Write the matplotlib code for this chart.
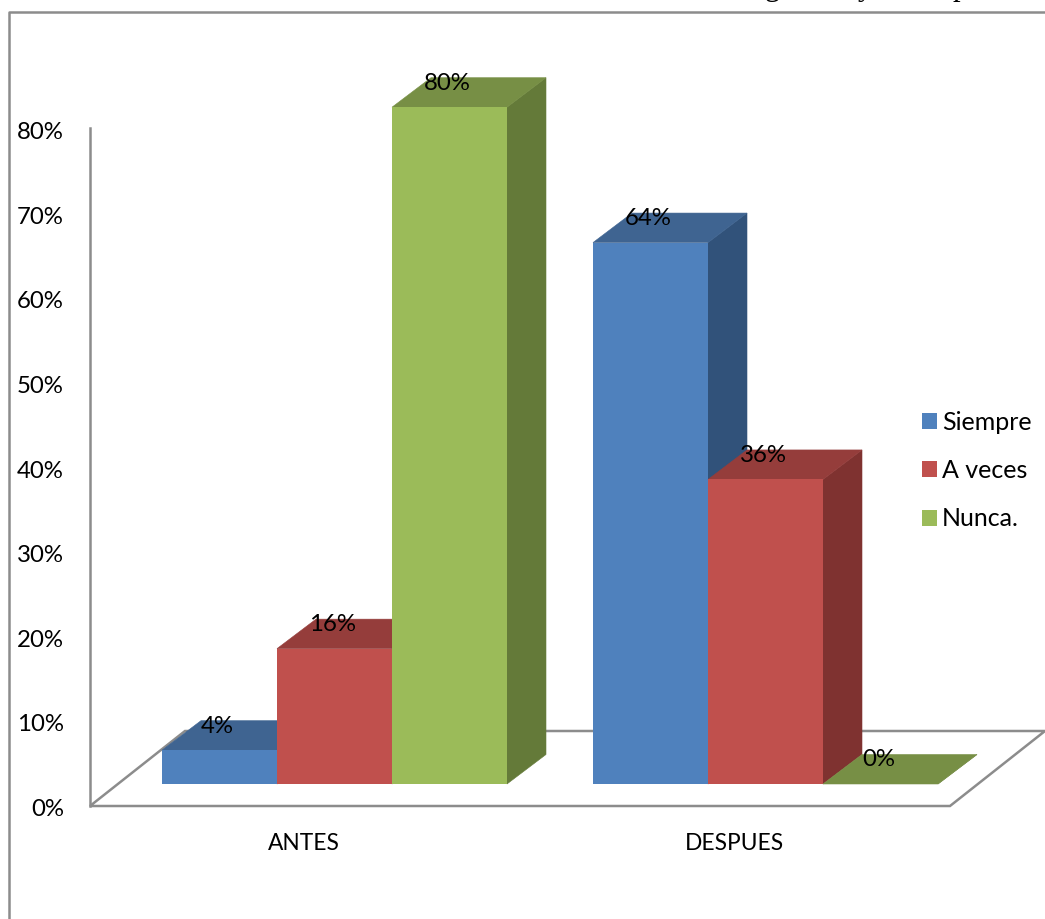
import matplotlib
matplotlib.use("Agg")
import matplotlib.pyplot as plt
from matplotlib.patches import Polygon, Patch

plt.rcParams['font.family'] = ['Lato', 'DejaVu Sans']

categories = ["ANTES", "DESPUES"]
series_names = ["Siempre", "A veces", "Nunca."]
antes_values = [4, 16, 80]
despues_values = [64, 36, 0]
tick_values = [0, 10, 20, 30, 40, 50, 60, 70, 80]

front_colors = ["#4F81BD", "#C0504D", "#9BBB59"]
top_colors = ["#3F6491", "#953D3B", "#778F45"]
side_colors = ["#31527A", "#7F3230", "#647A39"]
frame_color = "#8C8C8C"

W, H = 1045, 919
PX_PER_PCT = 8.46
BASE_PX = 784            # pixel row of the 0% line at the bars' front face
DEPTH_X = 39             # oblique depth of a bar, in x units
DEPTH_Y = 29.5 / PX_PER_PCT
BAR_W = 115
GROUP_LEFT = [162, 593]
FLOOR_DROP = 22 / PX_PER_PCT
FLOOR_BACK = 53 / PX_PER_PCT
LABEL_NUDGE = 3.5 / PX_PER_PCT   # optical centring of the label font


def row(px):
    """Convert a pixel row to the percent scale of the y axis."""
    return (BASE_PX - px) / PX_PER_PCT


fig = plt.figure(figsize=(W / 100, H / 100), dpi=100, facecolor="white")
ax = fig.add_axes([0, 0, 1, 1])
ax.set_xlim(0, W)
ax.set_ylim(row(H), row(0))
ax.axis("off")

# Outer chart frame, cut by the page on the top and bottom
ax.plot([8.5, 8.5, W], [row(H), row(12), row(12)], color=frame_color, lw=1.8, zorder=1)

# Floor of the 3-D plot and the vertical axis wall
floor = [(90, -FLOOR_DROP), (950, -FLOOR_DROP), (1045, FLOOR_BACK), (185, FLOOR_BACK)]
ax.add_patch(Polygon(floor, closed=True, fc="white", ec=frame_color, lw=1.8, zorder=2))
ax.plot([90, 90], [-FLOOR_DROP, row(128)], color=frame_color, lw=1.8, zorder=2)

# Percent labels along the wall
for t in tick_values:
    ax.text(64, t - FLOOR_DROP - LABEL_NUDGE, f"{t}%", ha="right", va="center",
            fontsize=17.3, color="black", zorder=6)


def draw_bar(x, value, i):
    """Extruded bar: side face, top face, then the front face."""
    x1 = x + BAR_W
    ax.add_patch(Polygon([(x1, 0), (x1 + DEPTH_X, DEPTH_Y),
                          (x1 + DEPTH_X, value + DEPTH_Y), (x1, value)],
                         closed=True, fc=side_colors[i], ec=side_colors[i], lw=0.4, zorder=3))
    ax.add_patch(Polygon([(x, value), (x1, value),
                          (x1 + DEPTH_X, value + DEPTH_Y), (x + DEPTH_X, value + DEPTH_Y)],
                         closed=True, fc=top_colors[i], ec=top_colors[i], lw=0.4, zorder=3))
    ax.bar(x, value, width=BAR_W, align="edge", color=front_colors[i], zorder=3)


for left, values in zip(GROUP_LEFT, [antes_values, despues_values]):
    for i, v in enumerate(values):
        draw_bar(left + i * BAR_W, v, i)
    for i, v in enumerate(values):
        ax.text(left + i * BAR_W + BAR_W / 2 - 2, v + 27.5 / PX_PER_PCT - LABEL_NUDGE, f"{v}%",
                ha="center", va="center", fontsize=17.3, color="black", zorder=6)

# Category names under the floor
for left, name in zip(GROUP_LEFT, categories):
    ax.text(left + 1.5 * BAR_W - 31, row(839.5) - LABEL_NUDGE, name, ha="center", va="center",
            fontsize=16.4, color="black", zorder=6)

# Legend on the right
handles = [Patch(fc=c, ec="none", label=n) for c, n in zip(front_colors, series_names)]
ax.legend(handles=handles, loc="upper left", bbox_to_anchor=(914 / W, 1 - 403 / H),
          frameon=False, fontsize=18, handlelength=0.6, handleheight=0.6,
          handletextpad=0.22, labelspacing=1.02, borderpad=0.3, borderaxespad=0)

# Descenders of the line of text above the chart, cut off by the page edge
for x, ch in zip([765, 858, 953], "gyp"):
    ax.text(x, row(-4.5), ch, family="Liberation Serif", fontsize=22, color="black",
            ha="left", va="baseline", zorder=6)

fig.savefig("out.png", dpi=100)
